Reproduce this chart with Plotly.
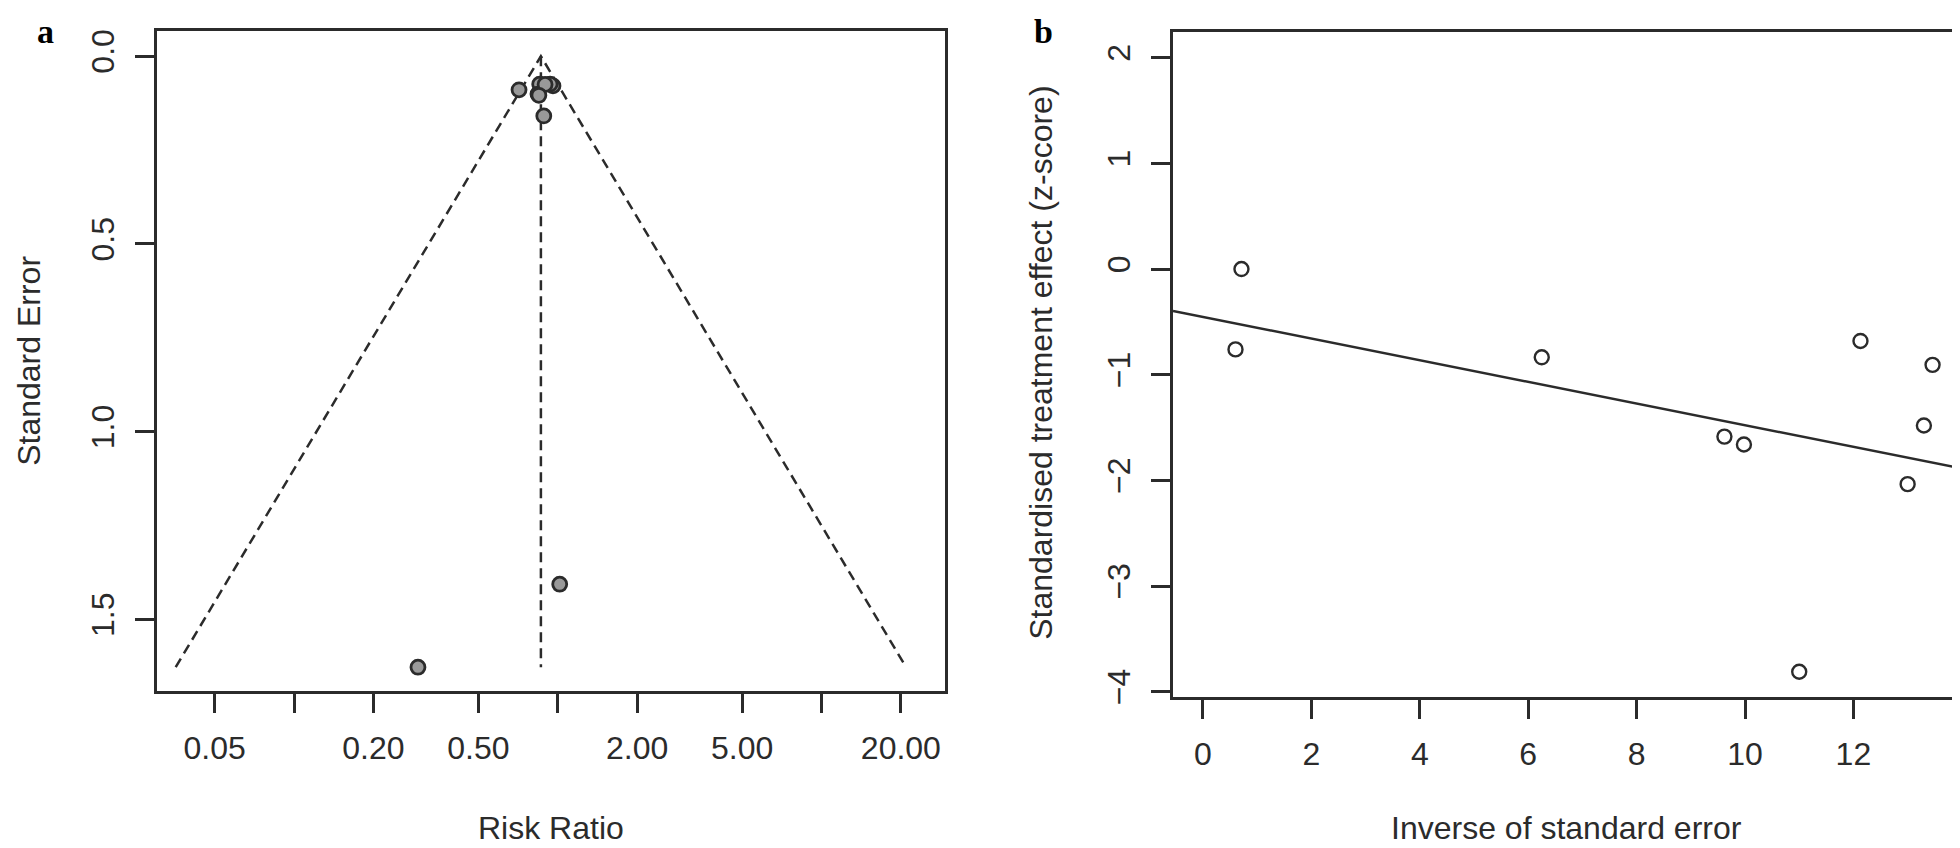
import numpy as np
import plotly.graph_objects as go

# ---------------- Panel a: funnel plot data ----------------
rr_a = [0.713, 0.854, 0.959, 0.841, 0.885, 0.935, 0.895, 0.848, 1.017, 0.295]
se_a = [0.0895, 0.0745, 0.079, 0.1008, 0.159, 0.0743, 0.0752, 0.104, 1.406, 1.627]
pooled_rr = 0.863
se_max = 1.627
z_crit = 1.96

x_a_ticks = [0.05, 0.1, 0.2, 0.5, 1, 2, 5, 10, 20]
x_a_text = ["0.05", "", "0.20", "0.50", "", "2.00", "5.00", "", "20.00"]
y_a_ticks = [0, 0.5, 1.0, 1.5]
y_a_text = ["0.0", "0.5", "1.0", "1.5"]

# ---------------- Panel b: Galbraith / radial data ----------------
inv_se_b = [0.60, 0.71, 6.25, 9.62, 9.98, 11.0, 12.13, 13.0, 13.3, 13.46]
z_b = [-0.76, 0.0, -0.835, -1.585, -1.66, -3.81, -0.68, -2.035, -1.48, -0.906]
x_b_ticks = [0, 2, 4, 6, 8, 10, 12]
y_b_ticks = [-4, -3, -2, -1, 0, 1, 2]

# axis ranges
xa_range = [-1.5198, 1.4684]   # log10
ya_range = [1.690, -0.066]
xb_range = [-0.553, 14.04]
yb_range = [-4.047, 2.239]

W, H = 1960, 848
INK = "#2b2b2b"
FONT = "Liberation Sans, Arial, sans-serif"
FS = 32

fig = go.Figure()

# funnel lines
lo = pooled_rr * np.exp(-z_crit * se_max)
hi = pooled_rr * np.exp(z_crit * se_max)
fig.add_trace(go.Scatter(x=[lo, pooled_rr, hi], y=[se_max, 0, se_max], mode="lines",
                         line=dict(color=INK, width=2.5, dash="10px,6px"),
                         xaxis="x", yaxis="y", hoverinfo="skip", showlegend=False))
fig.add_trace(go.Scatter(x=[pooled_rr, pooled_rr], y=[0, se_max], mode="lines",
                         line=dict(color=INK, width=2.5, dash="10px,6px"),
                         xaxis="x", yaxis="y", hoverinfo="skip", showlegend=False))
fig.add_trace(go.Scatter(x=rr_a, y=se_a, mode="markers",
                         marker=dict(size=14, color="#999999", line=dict(color=INK, width=2.8)),
                         xaxis="x", yaxis="y", showlegend=False))

# panel b regression line (least squares fit of the data)
slope, intercept = np.polyfit(inv_se_b, z_b, 1)
xl = np.array(xb_range)
fig.add_trace(go.Scatter(x=xl, y=intercept + slope * xl, mode="lines",
                         line=dict(color=INK, width=2.5),
                         xaxis="x2", yaxis="y2", hoverinfo="skip", showlegend=False))
fig.add_trace(go.Scatter(x=inv_se_b, y=z_b, mode="markers",
                         marker=dict(size=14, color="white", line=dict(color=INK, width=2.4)),
                         xaxis="x2", yaxis="y2", showlegend=False))

axis_common = dict(showline=True, linecolor=INK, linewidth=2.5, mirror=True,
                   ticks="outside", ticklen=19, tickwidth=2.5, tickcolor=INK,
                   showgrid=False, zeroline=False,
                   tickfont=dict(family=FONT, size=FS, color=INK))


def px2paper_x(px):
    return px / W


def px2paper_y(py):
    return 1 - py / H


fig.update_layout(
    width=W, height=H,
    margin=dict(l=0, r=0, t=0, b=0),
    paper_bgcolor="white", plot_bgcolor="white",
    xaxis=dict(domain=[px2paper_x(149), px2paper_x(937)], type="log", range=xa_range,
               tickvals=x_a_ticks, ticktext=x_a_text, anchor="y",
               ticklabelstandoff=8, **axis_common),
    yaxis=dict(domain=[px2paper_y(689), px2paper_y(21.7)], range=ya_range,
               tickvals=y_a_ticks, ticktext=y_a_text, tickangle=-90, anchor="x",
               ticklabelstandoff=8, **axis_common),
    xaxis2=dict(domain=[px2paper_x(1165), px2paper_x(1956)], range=xb_range,
                tickvals=x_b_ticks, anchor="y2", ticklabelstandoff=8, **axis_common),
    yaxis2=dict(domain=[px2paper_y(695), px2paper_y(22.7)], range=yb_range,
                tickvals=y_b_ticks, tickangle=-90, anchor="x2",
                ticklabelstandoff=8, **axis_common),
)

ann_font = dict(family=FONT, size=FS, color=INK)
annotations = [
    dict(text="Risk Ratio", x=px2paper_x(543), y=px2paper_y(828), xref="paper", yref="paper",
         showarrow=False, xanchor="center", yanchor="middle", font=ann_font),
    dict(text="Standard Error", x=px2paper_x(21), y=px2paper_y(355), xref="paper", yref="paper",
         showarrow=False, xanchor="center", yanchor="middle", textangle=-90, font=ann_font),
    dict(text="Inverse of standard error", x=px2paper_x(1558), y=px2paper_y(828), xref="paper",
         yref="paper", showarrow=False, xanchor="center", yanchor="middle", font=ann_font),
    dict(text="Standardised treatment effect (z-score)", x=px2paper_x(1033), y=px2paper_y(357),
         xref="paper", yref="paper", showarrow=False, xanchor="center", yanchor="middle",
         textangle=-90, font=ann_font),
    dict(text="<b>a</b>", x=px2paper_x(37), y=px2paper_y(22), xref="paper", yref="paper",
         showarrow=False, xanchor="center", yanchor="middle",
         font=dict(family="Liberation Serif, Times New Roman, serif", size=34, color="black")),
    dict(text="<b>b</b>", x=px2paper_x(1035), y=px2paper_y(22), xref="paper", yref="paper",
         showarrow=False, xanchor="center", yanchor="middle",
         font=dict(family="Liberation Serif, Times New Roman, serif", size=34, color="black")),
]
fig.update_layout(annotations=annotations)

fig.write_html("out.html")
